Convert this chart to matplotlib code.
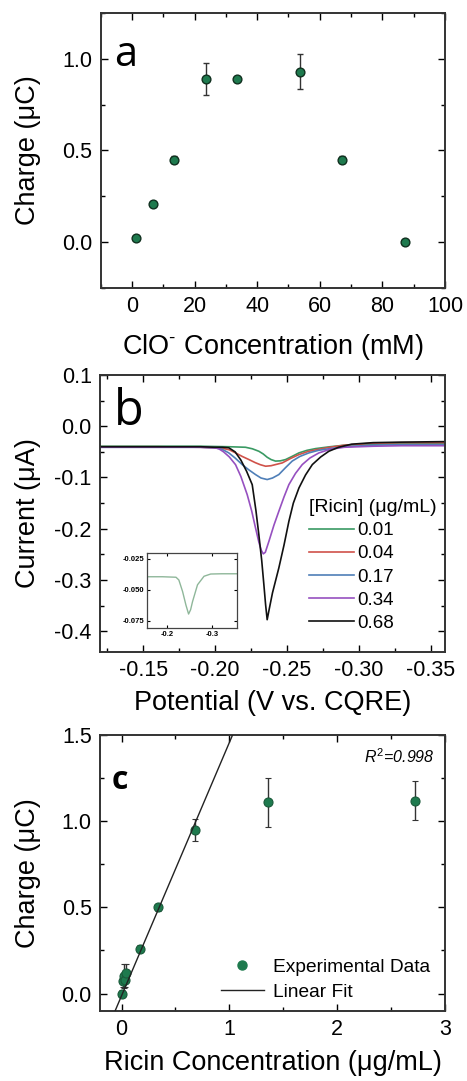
import numpy as np
import matplotlib
matplotlib.use('Agg')
import matplotlib.pyplot as plt
from matplotlib.ticker import MultipleLocator, FormatStrFormatter
from matplotlib.lines import Line2D

plt.rcParams['font.family'] = ['Liberation Sans', 'DejaVu Sans']
plt.rcParams['axes.unicode_minus'] = False
plt.rcParams['mathtext.fontset'] = 'custom'
plt.rcParams['mathtext.rm'] = 'Liberation Sans'
plt.rcParams['mathtext.it'] = 'Liberation Sans:italic'

GREEN = '#1e7a4e'

# --- panel a: charge vs hypochlorite concentration ---
clo_conc = [1.3, 6.7, 13.3, 23.5, 33.5, 53.8, 67.0, 87.3]
clo_charge = [0.02, 0.21, 0.45, 0.89, 0.89, 0.93, 0.45, 0.0]
clo_err = [0.01, 0.01, 0.02, 0.088, 0.01, 0.096, 0.02, 0.01]

# --- panel b: voltammograms ---
ricin_labels = ['0.01', '0.04', '0.17', '0.34', '0.68']
curve_colors = ['#3a9a63', '#d0524a', '#4f7fb8', '#9650c0', '#111111']

pot_001 = [-0.12, -0.16, -0.19, -0.21, -0.2212, -0.226, -0.2305, -0.2335, -0.2363, -0.239,
           -0.2421, -0.2455, -0.2491, -0.2535, -0.2584, -0.264, -0.27, -0.28, -0.29, -0.31, -0.33, -0.36]
cur_001 = [-0.039, -0.039, -0.039, -0.040, -0.041, -0.044, -0.0488, -0.054, -0.0605, -0.065,
           -0.068, -0.0675, -0.065, -0.059, -0.052, -0.047, -0.0436, -0.040, -0.037, -0.035, -0.034, -0.034]

pot_004 = [-0.12, -0.16, -0.19, -0.205, -0.210, -0.2143, -0.219, -0.2236, -0.228, -0.2315, -0.2352,
           -0.239, -0.2468, -0.2525, -0.2584, -0.265, -0.272, -0.28, -0.29, -0.31, -0.33, -0.36]
cur_004 = [-0.040, -0.040, -0.041, -0.043, -0.046, -0.052, -0.059, -0.065, -0.071, -0.075, -0.078,
           -0.077, -0.0715, -0.063, -0.0553, -0.049, -0.045, -0.041, -0.037, -0.033, -0.032, -0.032]

pot_017 = [-0.12, -0.16, -0.19, -0.200, -0.205, -0.2096, -0.214, -0.219, -0.2235, -0.2282, -0.232, -0.2363,
           -0.240, -0.2444, -0.249, -0.2537, -0.259, -0.2653, -0.272, -0.2792, -0.29, -0.31, -0.33, -0.36]
cur_017 = [-0.041, -0.041, -0.041, -0.042, -0.045, -0.052, -0.062, -0.075, -0.085, -0.0943, -0.101, -0.104,
           -0.101, -0.0943, -0.081, -0.068, -0.059, -0.052, -0.047, -0.044, -0.040, -0.037, -0.036, -0.036]

pot_034 = [-0.12, -0.16, -0.19, -0.200, -0.2027, -0.206, -0.210, -0.2143, -0.218, -0.2224, -0.2255,
           -0.2282, -0.2305, -0.2322, -0.2336, -0.235, -0.2375, -0.241, -0.2444, -0.248, -0.2514, -0.256,
           -0.2607, -0.266, -0.2723, -0.28, -0.29, -0.31, -0.33, -0.36]
cur_034 = [-0.041, -0.041, -0.041, -0.042, -0.044, -0.050, -0.060, -0.075, -0.098, -0.1334, -0.165,
           -0.1985, -0.226, -0.242, -0.249, -0.246, -0.2246, -0.193, -0.166, -0.138, -0.1139, -0.092,
           -0.0748, -0.062, -0.052, -0.045, -0.041, -0.039, -0.038, -0.038]

pot_068 = [-0.12, -0.16, -0.19, -0.200, -0.205, -0.2096, -0.214, -0.218, -0.222, -0.2259, -0.2285, -0.2305,
           -0.2325, -0.234, -0.2352, -0.2363, -0.2375, -0.240, -0.2444, -0.248, -0.2514, -0.2545, -0.2584,
           -0.263, -0.2677, -0.2735, -0.2792, -0.286, -0.295, -0.31, -0.33, -0.36]
cur_068 = [-0.040, -0.040, -0.040, -0.041, -0.041, -0.042, -0.050, -0.066, -0.088, -0.114, -0.165, -0.2115,
           -0.262, -0.309, -0.348, -0.3775, -0.360, -0.325, -0.2766, -0.232, -0.1855, -0.150, -0.1204,
           -0.095, -0.0748, -0.060, -0.0488, -0.041, -0.035, -0.032, -0.031, -0.030]

# inset curve
inset_pot = [-0.155, -0.19, -0.2197, -0.226, -0.2343, -0.2416, -0.2475, -0.252, -0.2562, -0.2672,
             -0.2816, -0.2963, -0.32, -0.355]
inset_cur = [-0.0394, -0.0394, -0.0398, -0.042, -0.0514, -0.0622, -0.0695, -0.066, -0.0595, -0.0459,
             -0.039, -0.0372, -0.037, -0.037]

# --- panel c: calibration ---
ricin_conc = [0.0, 0.01, 0.02, 0.03, 0.04, 0.17, 0.34, 0.68, 1.36, 2.72]
ricin_charge = [0.0, 0.07, 0.10, 0.08, 0.12, 0.26, 0.50, 0.95, 1.11, 1.12]
ricin_err = [0.02, 0.03, 0.07, 0.04, 0.05, 0.02, 0.02, 0.065, 0.143, 0.112]
fit_slope = 1.47
fit_intercept = -0.013


def style_axes(ax, xmaj, xmin, ymaj, ymin, size=15.5, pad=6):
    ax.xaxis.set_major_locator(MultipleLocator(xmaj))
    ax.xaxis.set_minor_locator(MultipleLocator(xmin))
    ax.yaxis.set_major_locator(MultipleLocator(ymaj))
    ax.yaxis.set_minor_locator(MultipleLocator(ymin))
    ax.tick_params(which='both', direction='in', top=True, right=True, width=1.0)
    ax.tick_params(which='major', length=5, labelsize=size, pad=pad)
    ax.tick_params(which='minor', length=3)
    for sp in ax.spines.values():
        sp.set_linewidth(1.4)
        sp.set_color('#333333')


fig = plt.figure(figsize=(4.67, 10.81), dpi=100)

# panel a
ax_a = fig.add_axes([0.2156, 0.7336, 0.7373, 0.2544])
ax_a.errorbar(clo_conc, clo_charge, yerr=clo_err, fmt='o', ms=6.3, mfc=GREEN, mec='#10301f',
              mew=1.0, ecolor='#333333', elinewidth=1.0, capsize=2.5, capthick=1.0)
ax_a.set_xlim(-10, 100)
ax_a.set_ylim(-0.25, 1.25)
style_axes(ax_a, 20, 10, 0.5, 0.25)
ax_a.yaxis.set_major_formatter(FormatStrFormatter('%.1f'))
ax_a.set_xlabel('ClO$^{\u2010}$ Concentration (mM)', fontsize=19.5, va='center')
ax_a.set_ylabel('Charge (μC)', fontsize=19.5, va='center')
ax_a.xaxis.set_label_coords(0.5, -0.213)
ax_a.yaxis.set_label_coords(-0.21, 0.5)
ax_a.text(0.04, 0.807, 'a', transform=ax_a.transAxes, fontsize=30, family='Open Sans',
          ha='left', va='baseline')

# panel b
ax_b = fig.add_axes([0.2141, 0.3971, 0.7388, 0.256])
curves = [(pot_001, cur_001), (pot_004, cur_004), (pot_017, cur_017), (pot_034, cur_034), (pot_068, cur_068)]
for (p, c), lab, col in zip(curves, ricin_labels, curve_colors):
    ax_b.plot(p, c, color=col, lw=1.2, label=lab)
ax_b.set_xlim(-0.12, -0.36)
ax_b.set_ylim(-0.44, 0.1)
style_axes(ax_b, 0.05, 0.025, 0.1, 0.05)
ax_b.xaxis.set_major_formatter(FormatStrFormatter('%.2f'))
ax_b.yaxis.set_major_formatter(FormatStrFormatter('%.1f'))
ax_b.set_xlabel('Potential (V vs. CQRE)', fontsize=19.5, va='center')
ax_b.set_ylabel('Current (μA)', fontsize=19.5, va='center')
ax_b.xaxis.set_label_coords(0.5, -0.185)
ax_b.yaxis.set_label_coords(-0.21, 0.5)
ax_b.text(0.04, 0.819, 'b', transform=ax_b.transAxes, fontsize=35, family='Open Sans',
          ha='left', va='baseline')
leg_b = ax_b.legend(title='[Ricin] (μg/mL)', loc='upper left', bbox_to_anchor=(0.58, 0.585),
                    frameon=False, fontsize=13.5, title_fontsize=14, handlelength=2.4,
                    handletextpad=0.15, labelspacing=0.32, borderpad=0, alignment='left')

# inset
ax_in = fig.add_axes([0.3141, 0.4188, 0.194, 0.0699])
ax_in.plot(inset_pot, inset_cur, color='#8fb79a', lw=1.0)
ax_in.set_xlim(-0.155, -0.355)
ax_in.set_ylim(-0.081, -0.02)
ax_in.xaxis.set_major_locator(MultipleLocator(0.1))
ax_in.yaxis.set_major_locator(MultipleLocator(0.025))
ax_in.tick_params(direction='in', top=True, right=True, length=2.5, width=0.8, labelsize=5.5, pad=2)
ax_in.xaxis.set_major_formatter(FormatStrFormatter('%.1f'))
ax_in.yaxis.set_major_formatter(FormatStrFormatter('%.3f'))
for lab in ax_in.get_xticklabels() + ax_in.get_yticklabels():
    lab.set_fontweight('bold')
for sp in ax_in.spines.values():
    sp.set_linewidth(0.9)
    sp.set_color('#444444')

# panel c
ax_c = fig.add_axes([0.2141, 0.065, 0.7388, 0.255])
ax_c.errorbar(ricin_conc, ricin_charge, yerr=ricin_err, fmt='o', ms=6.5, mfc=GREEN, mec='#1a5a3a',
              mew=0.8, ecolor='#333333', elinewidth=1.0, capsize=2.5, capthick=1.0, zorder=2)
fit_x = np.array([-0.2, 1.2])
ax_c.plot(fit_x, fit_slope * fit_x + fit_intercept, color='#222222', lw=1.0, zorder=3)
ax_c.set_xlim(-0.2, 3)
ax_c.set_ylim(-0.1, 1.5)
style_axes(ax_c, 1, 0.5, 0.5, 0.25)
ax_c.yaxis.set_major_formatter(FormatStrFormatter('%.1f'))
ax_c.set_xlabel('Ricin Concentration (μg/mL)', fontsize=19.5, va='center')
ax_c.set_ylabel('Charge (μC)', fontsize=19.5, va='center')
ax_c.xaxis.set_label_coords(0.5, -0.19)
ax_c.yaxis.set_label_coords(-0.21, 0.5)
ax_c.text(0.035, 0.804, 'c', transform=ax_c.transAxes, fontsize=23, family='Open Sans',
          fontweight='bold', ha='left', va='baseline')
ax_c.text(0.971, 0.898, '$\\mathit{R}^{2}$=0.998', transform=ax_c.transAxes, fontsize=11.5,
          style='italic', ha='right', va='baseline')
handles = [Line2D([], [], ls='none', marker='o', ms=6.5, mfc=GREEN, mec=GREEN),
           Line2D([], [], color='#222222', lw=1.0)]
ax_c.legend(handles, ['Experimental Data', 'Linear Fit'], loc='lower right',
            bbox_to_anchor=(0.985, 0.0), frameon=False, fontsize=13.8, handlelength=2.2,
            handletextpad=0.5, labelspacing=0.4, borderpad=0)

fig.savefig('out.png', dpi=100)
